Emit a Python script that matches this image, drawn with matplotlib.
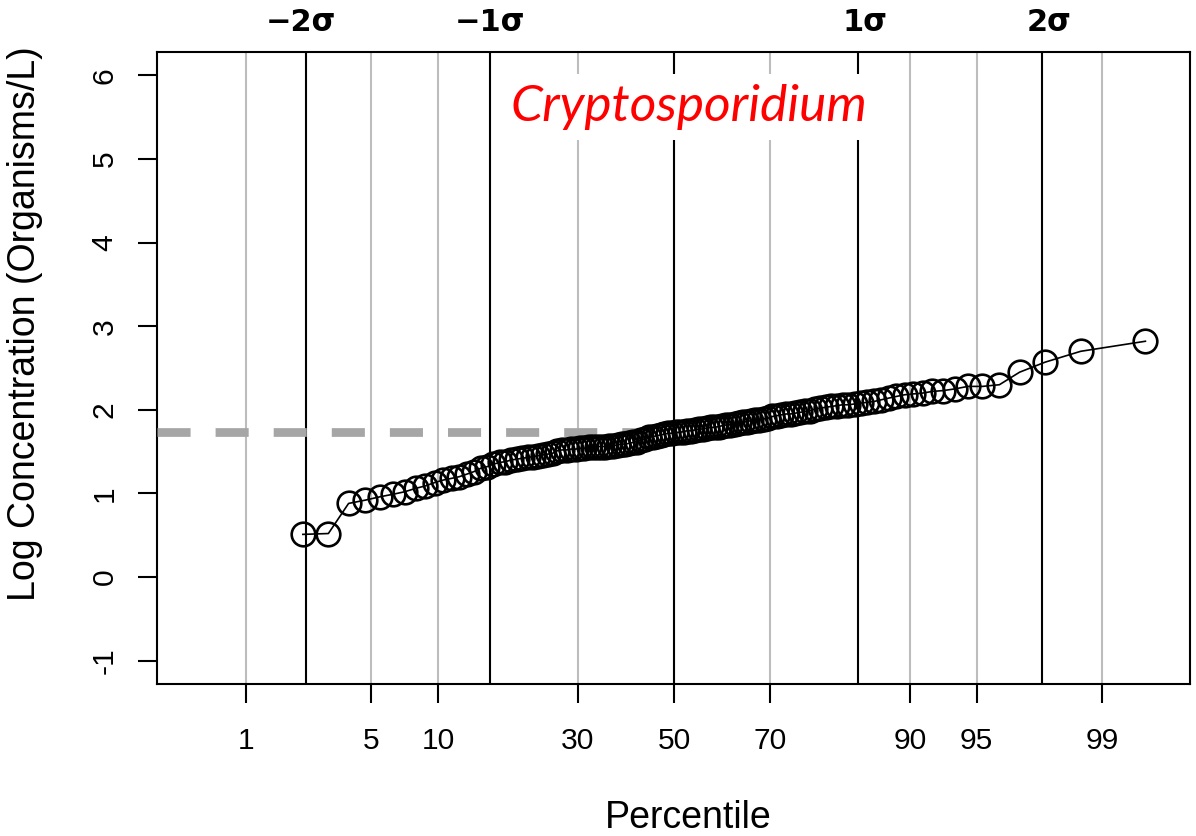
import numpy as np
import matplotlib.pyplot as plt
from matplotlib.transforms import blended_transform_factory
from statistics import NormalDist

# sorted log10 concentrations (ranks 3..120 of n = 120)
n_total = 120
first_rank = 3
log_conc = [
    0.51, 0.52, 0.88, 0.92, 0.96, 0.99, 1.02, 1.06, 1.09, 1.13,
    1.16, 1.18, 1.20, 1.23, 1.26, 1.30, 1.32, 1.35, 1.37, 1.38,
    1.40, 1.41, 1.42, 1.43, 1.44, 1.45, 1.46, 1.47, 1.48, 1.51,
    1.52, 1.52, 1.53, 1.53, 1.54, 1.54, 1.55, 1.55, 1.56, 1.56,
    1.56, 1.57, 1.57, 1.58, 1.59, 1.59, 1.60, 1.61, 1.62, 1.64,
    1.65, 1.67, 1.68, 1.69, 1.70, 1.71, 1.72, 1.72, 1.73, 1.73,
    1.74, 1.75, 1.75, 1.76, 1.77, 1.77, 1.78, 1.79, 1.79, 1.80,
    1.81, 1.82, 1.82, 1.83, 1.84, 1.85, 1.86, 1.87, 1.88, 1.88,
    1.89, 1.90, 1.92, 1.93, 1.94, 1.95, 1.95, 1.96, 1.97, 1.98,
    1.99, 2.01, 2.02, 2.03, 2.04, 2.05, 2.06, 2.06, 2.07, 2.08,
    2.09, 2.10, 2.12, 2.14, 2.16, 2.18, 2.19, 2.20, 2.22, 2.23,
    2.25, 2.28, 2.28, 2.30, 2.45, 2.57, 2.70, 2.82,
]

pct_ticks = [1, 5, 10, 30, 50, 70, 90, 95, 99]
sigma_lines = [-2, -1, 0, 1, 2]
sigma_labels = {-2: '\u22122\u03c3', -1: '\u22121\u03c3', 1: '1\u03c3', 2: '2\u03c3'}
y_ticks = [-1, 0, 1, 2, 3, 4, 5, 6]

ref_level = 1.74      # dashed reference level
ref_end_pct = 45.2    # percentile where the dashed line stops

nd = NormalDist()
ranks = np.arange(first_rank, first_rank + len(log_conc))
# Blom plotting positions -> normal scores
z = [nd.inv_cdf((r - 0.375) / (n_total + 0.25)) for r in ranks]
z_ticks = [nd.inv_cdf(p / 100) for p in pct_ticks]

plt.rcParams['font.family'] = ['Liberation Sans', 'DejaVu Sans']

fig = plt.figure(figsize=(11.96, 8.36), dpi=100)
ax = fig.add_axes([0.1313, 0.1818, 0.8637, 0.756])
xlim = (-2.81, 2.805)
ax.set_xlim(xlim)
ax.set_ylim(-1.28, 6.28)

# grid lines
for zt in z_ticks:
    ax.axvline(zt, color='#bdbdbd', lw=1.5, zorder=1)
for s in sigma_lines:
    ax.axvline(s, color='black', lw=1.5, zorder=2)

# dashed reference line from the left edge
z_end = nd.inv_cdf(ref_end_pct / 100)
ax.axhline(ref_level, xmin=0, xmax=(z_end - xlim[0]) / (xlim[1] - xlim[0]),
           color='#a6a6a6', lw=6.3, dashes=(3.78, 2.86), zorder=3)

ax.plot(z, log_conc, color='black', lw=1.2, marker='o', ms=17,
        mfc='none', mec='black', mew=1.9, zorder=4)

ax.set_xticks(z_ticks)
ax.set_xticklabels([str(p) for p in pct_ticks])
ax.set_yticks(y_ticks)
ax.set_yticklabels([str(v) for v in y_ticks])
ax.tick_params(axis='x', length=13.7, width=1.5, pad=17, labelsize=21.6)
ax.tick_params(axis='y', length=13.7, width=1.5, pad=14, labelsize=21.6,
               labelrotation=90)
for lab in ax.get_yticklabels():
    lab.set_va('center')

for sp in ax.spines.values():
    sp.set_linewidth(1.5)

ax.set_xlabel('Percentile', fontsize=27)
ax.xaxis.set_label_coords(0.514, -0.212)
ax.xaxis.label.set_va('center')
ax.set_ylabel('Log Concentration (Organisms/L)', fontsize=27)
ax.yaxis.set_label_coords(-0.128, 0.571)
ax.yaxis.label.set_va('center')

# sigma labels above the plot
trans = blended_transform_factory(ax.transData, ax.transAxes)
offsets = {-2: -0.03, -1: 0.0, 1: 0.04, 2: 0.04}
for s, txt in sigma_labels.items():
    ax.text(s + offsets[s], 1.047, txt, transform=trans, ha='center', va='center',
            fontsize=22, fontweight='bold', family=['DejaVu Sans'])

ax.text(0.08, 5.62, 'Cryptosporidium', color='red', fontsize=37, style='italic',
        family=['Lato', 'DejaVu Sans'], ha='center', va='center', zorder=5,
        bbox=dict(facecolor='white', edgecolor='none', pad=7))

fig.savefig('out.png', dpi=100)
